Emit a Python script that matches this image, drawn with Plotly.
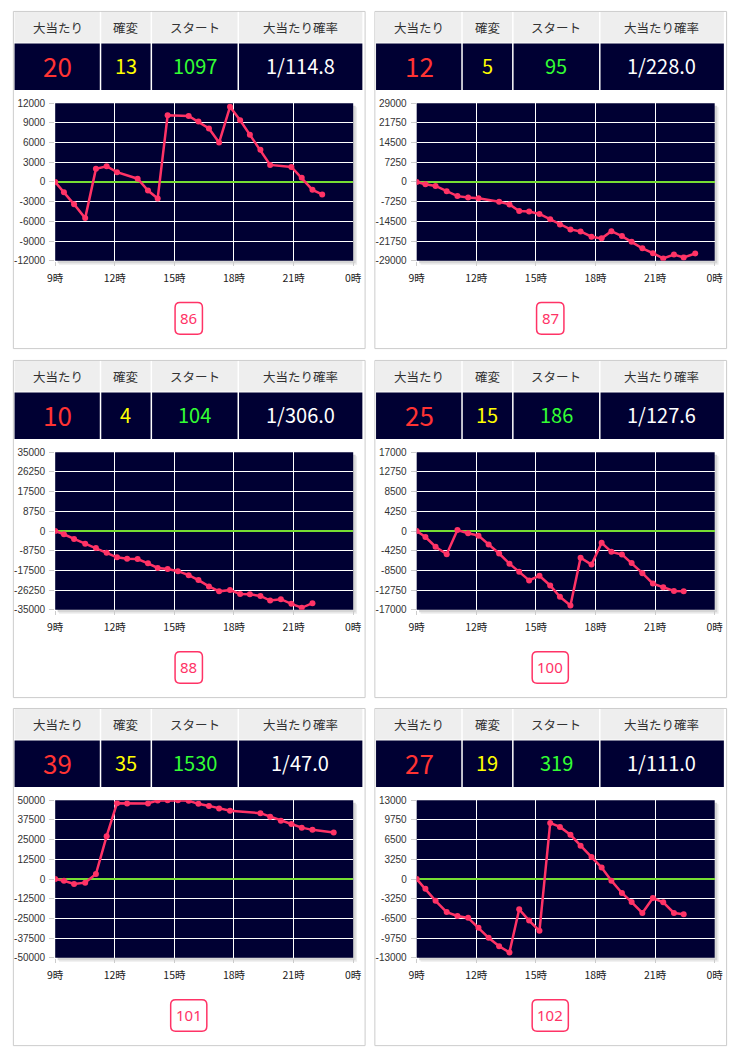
import plotly.graph_objects as go

# ---------------- data ----------------
hour_ticks = [9, 12, 15, 18, 21, 24]
hour_labels = ["9時", "12時", "15時", "18時", "21時", "0時"]

header_labels = ["大当たり", "確変", "スタート", "大当たり確率"]

machine_labels = ["86", "87", "88", "100", "101", "102"]
big_hits = ["20", "12", "10", "25", "39", "27"]
kakuhen = ["13", "5", "4", "15", "35", "19"]
starts = ["1097", "95", "104", "186", "1530", "319"]
hit_prob = ["1/114.8", "1/228.0", "1/306.0", "1/127.6", "1/47.0", "1/111.0"]

y_limits = [12000, 29000, 35000, 17000, 50000, 13000]

t86 = [9.0, 9.44, 9.95, 10.51, 11.05, 11.59, 12.11, 13.15, 13.67, 14.16, 14.66, 15.72,
       16.21, 16.74, 17.25, 17.80, 18.31, 18.80, 19.33, 19.82, 20.89, 21.41, 21.95, 22.44]
v86 = [0, -1550, -3400, -5500, 2000, 2400, 1500, 500, -1300, -2500, 10150, 10050,
       9200, 8150, 6000, 11450, 9400, 7200, 4900, 2600, 2300, 650, -1200, -1900]

t87 = [9.0, 9.44, 9.95, 10.51, 11.05, 11.59, 12.11, 13.15, 13.67, 14.16, 14.66, 15.18, 15.72,
       16.21, 16.74, 17.25, 17.80, 18.31, 18.80, 19.33, 19.82, 20.36, 20.89, 21.41, 21.95, 22.44, 23.02]
v87 = [0, -850, -1450, -3400, -5200, -5700, -5950, -7300, -8250, -10700, -10900, -11750, -13700,
       -15650, -17450, -18200, -20150, -20750, -18100, -19900, -21950, -24400, -26200, -28150,
       -26700, -27800, -26300]

t88 = [9.0, 9.44, 9.95, 10.51, 11.05, 11.59, 12.11, 12.62, 13.15, 13.67, 14.16, 14.66, 15.18,
       15.72, 16.21, 16.74, 17.25, 17.80, 18.31, 18.80, 19.33, 19.82, 20.36, 20.89, 21.41, 21.95]
v88 = [0, -1450, -3500, -5700, -7600, -9650, -11700, -12300, -12450, -14350, -16400, -16850, -17850,
       -19600, -21800, -24600, -26800, -26200, -27950, -28100, -28850, -30900, -30300, -32350,
       -34100, -32050]

t100 = [9.0, 9.44, 9.95, 10.51, 11.05, 11.59, 12.11, 12.62, 13.15, 13.67, 14.16, 14.66, 15.18,
        15.72, 16.21, 16.74, 17.25, 17.80, 18.31, 18.80, 19.33, 19.82, 20.36, 20.89, 21.41, 21.95, 22.44]
v100 = [0, -1300, -3400, -5000, 200, -500, -1000, -2900, -4850, -7050, -8800, -10650, -9650,
        -11750, -14200, -16050, -5750, -7250, -2550, -4500, -5050, -6900, -9100, -11350, -12150,
        -12950, -13000]

t101 = [9.0, 9.44, 9.95, 10.51, 11.05, 11.59, 12.11, 12.62, 13.67, 14.16, 14.66, 15.18, 15.72,
        16.21, 16.74, 17.25, 17.80, 19.33, 19.82, 20.36, 20.89, 21.41, 21.95, 23.02]
v101 = [0, -1050, -3150, -2300, 3150, 27200, 48100, 47900, 47900, 49900, 50000, 50000, 49600,
        47700, 46400, 44800, 43300, 41800, 39500, 37000, 34900, 32600, 31200, 29500]

t102 = [9.0, 9.44, 9.95, 10.51, 11.05, 11.59, 12.11, 12.62, 13.15, 13.67, 14.16, 14.66, 15.18,
        15.72, 16.21, 16.74, 17.25, 17.80, 18.31, 18.80, 19.33, 19.82, 20.36, 20.89, 21.41, 21.95, 22.44]
v102 = [0, -1600, -3600, -5450, -6100, -6400, -8050, -9700, -11100, -12100, -5000, -6850, -8550,
        9250, 8600, 7300, 5500, 3650, 1900, -270, -2300, -3800, -5600, -3150, -3850, -5600, -5800]

series_times = [t86, t87, t88, t100, t101, t102]
series_values = [v86, v87, v88, v100, v101, v102]

# ---------------- layout constants ----------------
W, H = 740, 1063
origins = [(0, 0), (370, 0), (0, 353), (370, 353), (0, 705), (370, 705)]
NAVY = "#000033"
PINK = "#ff3366"
JP = "Noto Sans CJK JP"


def px(x):
    return x / W


def py(y):
    return 1 - y / H


fig = go.Figure()
shapes = []
annotations = []

col_edges = [6.7, 94.7, 146.7, 235.7, 362.7]
value_colors = ["#ff3333", "#ffff00", "#33ff33", "#ffffff"]
value_sizes = [26, 20, 20, 20]

for i, (ox, oy) in enumerate(origins):
    n = i + 1
    # panel border
    shapes.append(dict(type="rect", xref="paper", yref="paper",
                       x0=px(ox + 5.5), x1=px(ox + 365.5), y0=py(oy + 5.5), y1=py(oy + 346.5),
                       line=dict(color="#cccccc", width=1), fillcolor="rgba(0,0,0,0)", layer="below"))
    # header row + value row
    shapes.append(dict(type="rect", xref="paper", yref="paper",
                       x0=px(ox + col_edges[0]), x1=px(ox + col_edges[-1]), y0=py(oy + 6), y1=py(oy + 37),
                       line=dict(width=0), fillcolor="#eeeeee"))
    shapes.append(dict(type="rect", xref="paper", yref="paper",
                       x0=px(ox + col_edges[0]), x1=px(ox + col_edges[-1]), y0=py(oy + 38), y1=py(oy + 85),
                       line=dict(width=0), fillcolor=NAVY))
    for e in col_edges[1:-1]:
        shapes.append(dict(type="line", xref="paper", yref="paper",
                           x0=px(ox + e), x1=px(ox + e), y0=py(oy + 6), y1=py(oy + 85),
                           line=dict(color="#ffffff", width=1.5)))
    vals = [big_hits[i], kakuhen[i], starts[i], hit_prob[i]]
    for c in range(4):
        cx = ox + (col_edges[c] + col_edges[c + 1]) / 2
        annotations.append(dict(xref="paper", yref="paper", x=px(cx), y=py(oy + 22),
                                text=header_labels[c], showarrow=False, xanchor="center", yanchor="middle",
                                font=dict(family=JP, size=12.5, color="#333333")))
        annotations.append(dict(xref="paper", yref="paper", x=px(cx), y=py(oy + 60),
                                text=vals[c], showarrow=False, xanchor="center", yanchor="middle",
                                font=dict(family=JP, size=value_sizes[c], color=value_colors[c])))

    # plot area: shadow then navy background, both beneath the grid
    x0, x1 = ox + 48.3, ox + 353.3
    y0, y1 = oy + 98.3, oy + 257.7
    for off, col in [(4, "#ececec"), (2.5, "#d6d6d6")]:
        shapes.append(dict(type="rect", xref="paper", yref="paper",
                           x0=px(x0 + off), x1=px(x1 + off), y0=py(y1 + off), y1=py(y0 + off),
                           line=dict(width=0), fillcolor=col, layer="below"))
    shapes.append(dict(type="rect", xref="paper", yref="paper",
                       x0=px(x0), x1=px(x1), y0=py(y1), y1=py(y0),
                       line=dict(width=0), fillcolor=NAVY, layer="below"))

    M = y_limits[i]
    yt = [-M + k * M / 4 for k in range(9)]
    fig.add_trace(go.Scatter(x=series_times[i], y=series_values[i], mode="lines+markers",
                             line=dict(color=PINK, width=2.5), marker=dict(color=PINK, size=6),
                             xaxis=f"x{n}", yaxis=f"y{n}", showlegend=False, hoverinfo="skip"))
    fig.update_layout(**{
        f"xaxis{n}": dict(domain=[px(x0), px(x1)], anchor=f"y{n}", range=[9, 24],
                          tickvals=hour_ticks, ticktext=hour_labels, showgrid=True,
                          gridcolor="#ffffff", gridwidth=1, zeroline=False, showline=False,
                          ticks="outside", ticklen=4, tickcolor="#cccccc", ticklabelstandoff=4,
                          tickfont=dict(family=JP, size=10.5, color="#222222"), fixedrange=True),
        f"yaxis{n}": dict(domain=[py(y1), py(y0)], anchor=f"x{n}", range=[-M, M],
                          tickvals=yt, ticktext=[str(int(v)) for v in yt], showgrid=True,
                          gridcolor="#ffffff", gridwidth=1, zeroline=True, zerolinecolor="#77dd33",
                          zerolinewidth=2, showline=False, ticks="outside", ticklen=5,
                          tickcolor="#cccccc", ticklabelstandoff=2,
                          tickfont=dict(family="Liberation Sans", size=10, color="#333333"),
                          fixedrange=True),
    })

    # machine label box
    cx, cy = ox + 185, oy + 316
    bw = 10 + 9 * len(machine_labels[i])
    bh = 32
    r = 5
    L, R, T, B = cx - bw / 2, cx + bw / 2, cy - bh / 2, cy + bh / 2
    path = (f"M {px(L + r)},{py(T)} L {px(R - r)},{py(T)} Q {px(R)},{py(T)} {px(R)},{py(T + r)} "
            f"L {px(R)},{py(B - r)} Q {px(R)},{py(B)} {px(R - r)},{py(B)} "
            f"L {px(L + r)},{py(B)} Q {px(L)},{py(B)} {px(L)},{py(B - r)} "
            f"L {px(L)},{py(T + r)} Q {px(L)},{py(T)} {px(L + r)},{py(T)} Z")
    shapes.append(dict(type="path", xref="paper", yref="paper", path=path,
                       line=dict(color=PINK, width=1.5), fillcolor="#ffffff"))
    annotations.append(dict(xref="paper", yref="paper", x=px(cx), y=py(cy),
                            text=machine_labels[i], showarrow=False, xanchor="center", yanchor="middle",
                            font=dict(family="Noto Sans", size=15, color=PINK)))

fig.update_layout(width=W, height=H, margin=dict(l=0, r=0, t=0, b=0),
                  paper_bgcolor="#ffffff", plot_bgcolor="rgba(0,0,0,0)",
                  shapes=shapes, annotations=annotations, showlegend=False)

fig.write_html("out.html")
